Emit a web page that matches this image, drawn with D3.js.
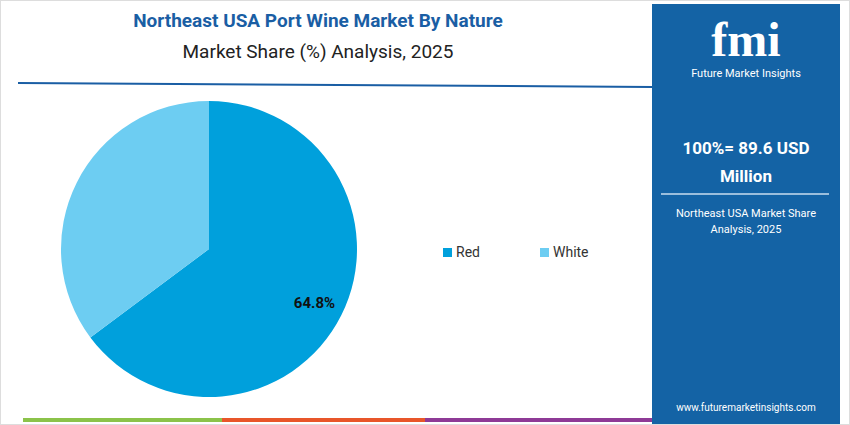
<!DOCTYPE html>
<meta charset="utf-8">
<script src="https://d3js.org/d3.v7.min.js"></script>
<style>
  body { margin: 0; background: #fff; }
  text { font-family: Roboto, "Open Sans", sans-serif; }
</style>
<svg id="chart" width="850" height="425"></svg>
<script>
  // data
  var categories = ["Red", "White"];
  var shares = [64.8, 35.2];
  var colors = ["#00a0dc", "#6dcdf2"];
  var totalLabel = "100%= 89.6 USD";

  var svg = d3.select("#chart");

  // outer frame
  svg.append("rect").attr("x", 0.5).attr("y", 0.5).attr("width", 849).attr("height", 424)
    .attr("fill", "none").attr("stroke", "#ddd");

  // title
  svg.append("text").attr("x", 318).attr("y", 27).attr("text-anchor", "middle")
    .style("font-size", "19px").style("font-weight", "bold").style("fill", "#1a5ea4")
    .text("Northeast USA Port Wine Market By Nature");
  svg.append("text").attr("x", 318).attr("y", 58).attr("text-anchor", "middle")
    .style("font-size", "19px").style("fill", "#222")
    .text("Market Share (%) Analysis, 2025");
  svg.append("line").attr("x1", 18).attr("y1", 83).attr("x2", 652).attr("y2", 87)
    .attr("stroke", "#1a5ea4").attr("stroke-width", 2);

  // pie
  var pie = d3.pie().sort(null).value(d => d)(shares);
  var arc = d3.arc().innerRadius(0).outerRadius(148);
  var g = svg.append("g").attr("transform", "translate(209,249)");
  g.selectAll("path").data(pie).enter().append("path")
    .attr("d", arc).attr("fill", (d, i) => colors[i]);
  var lab = d3.arc().innerRadius(118).outerRadius(118);
  g.selectAll(".lbl").data(pie.slice(0, 1)).enter().append("text")
    .attr("transform", d => { var c = lab.centroid(d); return "translate(" + c[0] + "," + (c[1] + 6) + ")"; })
    .attr("text-anchor", "middle").style("font-size", "15px").style("font-weight", "bold").style("fill", "#111")
    .text(d => d.data.toFixed(1) + "%");

  // legend
  var legX = [443, 540];
  categories.forEach(function (c, i) {
    svg.append("rect").attr("x", legX[i]).attr("y", 248).attr("width", 9).attr("height", 9).attr("fill", colors[i]);
    svg.append("text").attr("x", legX[i] + 13).attr("y", 257).style("font-size", "14px").style("fill", "#333").text(c);
  });

  // bottom bars
  var bars = [[23, 222, "#8bc34a"], [222, 425, "#e8562a"], [425, 652, "#8e3a96"]];
  bars.forEach(b => svg.append("rect").attr("x", b[0]).attr("y", 418).attr("width", b[1] - b[0]).attr("height", 4).attr("fill", b[2]));

  // right panel
  svg.append("rect").attr("x", 652).attr("y", 4).attr("width", 188).attr("height", 420).attr("fill", "#1463a5");
  svg.append("text").attr("x", 746).attr("y", 56).attr("text-anchor", "middle")
    .style("font-size", "48px").style("font-weight", "bold").style("fill", "#fff").style("font-family", "Georgia, serif")
    .text("fmi");
  svg.append("text").attr("x", 746).attr("y", 77).attr("text-anchor", "middle")
    .style("font-size", "11px").style("fill", "#fff").text("Future Market Insights");
  svg.append("text").attr("x", 746).attr("y", 154).attr("text-anchor", "middle")
    .style("font-size", "17px").style("font-weight", "bold").style("fill", "#fff").text(totalLabel);
  svg.append("text").attr("x", 746).attr("y", 182).attr("text-anchor", "middle")
    .style("font-size", "17px").style("font-weight", "bold").style("fill", "#fff").text("Million");
  svg.append("line").attr("x1", 661).attr("x2", 829).attr("y1", 194).attr("y2", 194)
    .attr("stroke", "#c9dcef").attr("stroke-width", 1.5);
  svg.append("text").attr("x", 746).attr("y", 217).attr("text-anchor", "middle")
    .style("font-size", "11px").style("fill", "#fff").text("Northeast USA Market Share");
  svg.append("text").attr("x", 746).attr("y", 233).attr("text-anchor", "middle")
    .style("font-size", "11px").style("fill", "#fff").text("Analysis, 2025");
  svg.append("text").attr("x", 746).attr("y", 411).attr("text-anchor", "middle")
    .style("font-size", "10px").style("fill", "#fff").text("www.futuremarketinsights.com");
</script>
